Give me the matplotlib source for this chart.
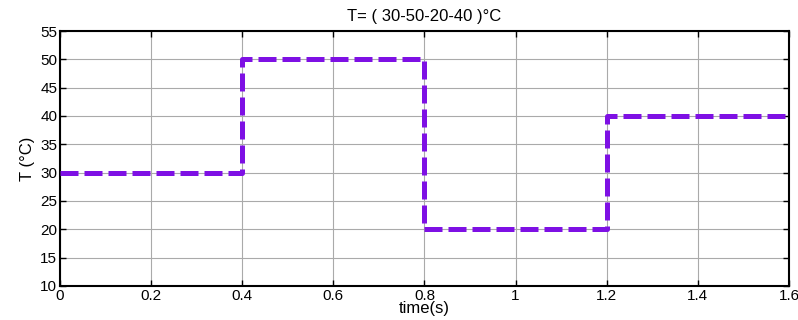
import numpy as np
import matplotlib.pyplot as plt

plt.rcParams['font.family'] = ['Liberation Sans', 'DejaVu Sans']

# instants de changement et consignes de température
t_edges = [0, 0.4, 0.8, 1.2, 1.6]
temps = [30, 50, 20, 40]

t_step = np.array(t_edges)
T_step = np.array(temps + [temps[-1]])

fig = plt.figure(figsize=(7.98, 3.2), dpi=100)
ax = fig.add_axes([0.0752, 0.1063, 0.9135, 0.7968])

ax.plot(t_step, T_step, drawstyle='steps-post', color='#7e10e4',
        linewidth=3.6, dashes=(3.6, 1.2), zorder=3)

ax.set_xlim(0, 1.6)
ax.set_ylim(10, 55)
ax.set_xticks(np.arange(0, 1.61, 0.2))
ax.set_xticklabels(['0', '0.2', '0.4', '0.6', '0.8', '1', '1.2', '1.4', '1.6'])
ax.set_yticks(np.arange(10, 56, 5))
ax.grid(True, color='#aaaaaa', linestyle='-', linewidth=0.8)
ax.tick_params(direction='in', top=True, right=True, labelsize=11,
               length=4, width=1, pad=2)
for s in ax.spines.values():
    s.set_linewidth(1.5)

ax.set_xlabel('time(s)', fontsize=12, labelpad=-1)
ax.set_ylabel('T (°C)', fontsize=12, labelpad=4)
ax.set_title('T= ( 30-50-20-40 )°C', fontsize=12, pad=7)

fig.savefig('out.png', dpi=100)
